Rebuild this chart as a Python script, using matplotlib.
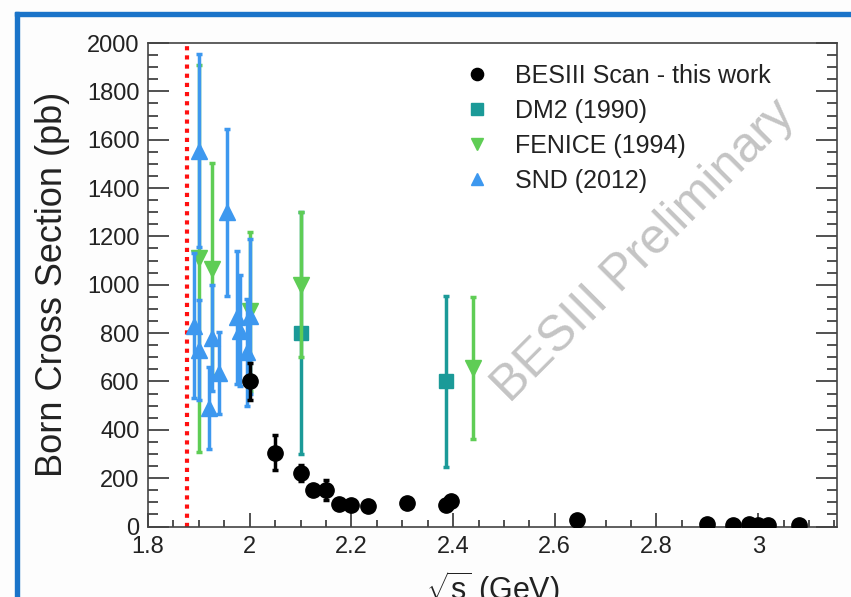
import matplotlib
matplotlib.use("Agg")
import matplotlib.pyplot as plt
from matplotlib.patches import Rectangle
from matplotlib.ticker import MultipleLocator

plt.rcParams['font.family'] = ['Liberation Sans', 'DejaVu Sans']
plt.rcParams['mathtext.fontset'] = 'custom'
plt.rcParams['mathtext.rm'] = 'Liberation Sans'
plt.rcParams['mathtext.it'] = 'Liberation Sans'

# BESIII scan (this work)
bes_x = [2.0, 2.05, 2.1, 2.125, 2.15, 2.175, 2.2, 2.232, 2.309, 2.386, 2.396,
         2.644, 2.9, 2.95, 2.981, 3.0, 3.02, 3.08]
bes_y = [600, 305, 220, 150, 150, 95, 88, 85, 97, 88, 107, 26, 10, 7, 10, 7, 8, 5]
bes_err = [75, 73, 33, 20, 42, 12, 12, 10, 12, 12, 14, 8, 3, 3, 3, 3, 3, 3]

# DM2 (1990)
dm2_x = [2.1, 2.386]
dm2_y = [800, 600]
dm2_err = [500, 352]

# FENICE (1994)
fen_x = [1.9, 1.925, 2.0, 2.1, 2.44]
fen_y = [1110, 1065, 890, 1000, 655]
fen_err = [800, 440, 330, 300, 295]

# SND (2012)
snd_x = [1.89, 1.9, 1.9, 1.92, 1.925, 1.94, 1.955, 1.975, 1.98, 1.995, 2.0]
snd_y = [830, 1555, 730, 490, 780, 635, 1300, 865, 810, 720, 870]
snd_err = [300, 400, 205, 170, 220, 170, 345, 275, 230, 220, 320]

threshold = 1.877

fig = plt.figure(figsize=(8.51, 5.97), dpi=100)
fig.patch.set_facecolor('#fdfdfd')

# blue slide frame (top and left edges)
fig.patches.append(Rectangle((15 / 851, 0), 4 / 851, 1 - 12 / 597, transform=fig.transFigure,
                             color='#1a74c9', zorder=0))
fig.patches.append(Rectangle((15 / 851, 1 - 16 / 597), 1, 4 / 597, transform=fig.transFigure,
                             color='#1a74c9', zorder=0))

ax = fig.add_axes([148 / 851, 1 - 526.5 / 597, (837 - 148) / 851, (526.5 - 43) / 597])
ax.set_facecolor('white')

ax.axvline(threshold, color='#ff1010', ls=(0, (1, 1.2)), lw=3, zorder=1)

ax.errorbar(dm2_x, dm2_y, yerr=dm2_err, fmt='s', color='#1b9a98', ms=10,
            elinewidth=2.5, capsize=2, capthick=2.5, label='DM2 (1990)', zorder=2)
ax.errorbar(fen_x, fen_y, yerr=fen_err, fmt='v', color='#5fcd55', ms=11,
            elinewidth=2.5, capsize=2, capthick=2.5, label='FENICE (1994)', zorder=3)
ax.errorbar(snd_x, snd_y, yerr=snd_err, fmt='^', color='#3d98ef', ms=11,
            elinewidth=2.5, capsize=2, capthick=2.5, label='SND (2012)', zorder=4)
ax.errorbar(bes_x, bes_y, yerr=bes_err, fmt='o', color='black', ms=11,
            elinewidth=2.5, capsize=2, capthick=2.5,
            label='BESIII Scan - this work', zorder=5)

ax.set_xlim(1.8, 3.155)
ax.set_ylim(0, 2000)
ax.xaxis.set_minor_locator(MultipleLocator(0.05))
ax.yaxis.set_major_locator(MultipleLocator(200))
ax.yaxis.set_minor_locator(MultipleLocator(50))
ax.set_xticks([1.8, 2.0, 2.2, 2.4, 2.6, 2.8, 3.0])
ax.set_xticklabels(['1.8', '2', '2.2', '2.4', '2.6', '2.8', '3'])

ax.tick_params(axis='x', which='major', direction='in', length=10, width=1.2,
               labelsize=17, pad=7, colors='#333333', labelcolor='#222222')
ax.tick_params(axis='x', which='minor', direction='in', length=5, width=1.2,
               colors='#333333')
ax.tick_params(axis='y', which='major', direction='in', length=15, width=1.2,
               labelsize=17, pad=6, right=True, colors='#333333', labelcolor='#222222')
ax.tick_params(axis='y', which='minor', direction='in', length=7.5, width=1.2,
               right=True, colors='#333333')
for s in ax.spines.values():
    s.set_color('#444444')
    s.set_linewidth(1.2)

ax.set_ylabel('Born Cross Section (pb)', fontsize=26, color='#222222', labelpad=12)
ax.set_xlabel(r'$\sqrt{\mathrm{s}}$ (GeV)', fontsize=22, color='#222222', labelpad=8)

handles, labels = ax.get_legend_handles_labels()
order = [3, 0, 1, 2]
leg = ax.legend([handles[i][0] for i in order], [labels[i] for i in order],
                loc='upper left', bbox_to_anchor=(0.427, 1.003), frameon=False,
                fontsize=18, handlelength=1.0, handletextpad=1.0,
                labelspacing=0.44, markerscale=0.8)
for t in leg.get_texts():
    t.set_color('#222222')

ax.text(0.72, 0.57, 'BESIII Preliminary', transform=ax.transAxes, rotation=45,
        fontsize=36, color='#c4c4c4', ha='center', va='center', zorder=0.5)

fig.savefig('out.png', dpi=100, facecolor=fig.get_facecolor())
